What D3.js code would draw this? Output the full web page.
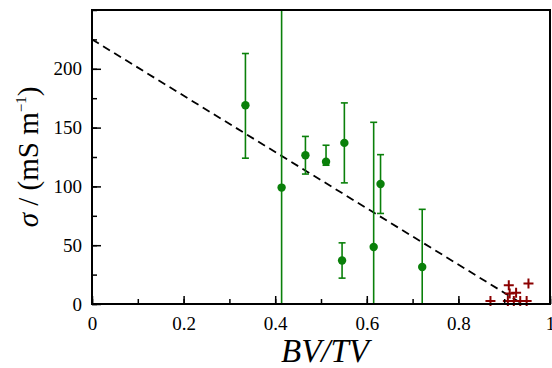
<!DOCTYPE html>
<html>
<head>
<meta charset="utf-8">
<script src="https://cdn.jsdelivr.net/npm/d3@7"></script>
<style>
  body { margin: 0; background: #fff; }
</style>
</head>
<body>
<div id="chart"></div>
<script>
// Measured points (green) with asymmetric error bars.
var bvtv     = [0.335, 0.414, 0.466, 0.511, 0.551, 0.546, 0.615, 0.630, 0.721];
var sigma    = [169,   99,    126.5, 121,   137,   37,    48.5,  102,   31.5];
var errUp    = [44,    300,   16,    14,    34,    15,    106,   25,    49];
var errDown  = [45,    300,   16,    3,     34,    15,    106,   25,    49];

// Reference points (red crosses).
var refBvtv  = [0.870, 0.910, 0.912, 0.926, 0.953, 0.908, 0.921, 0.935, 0.949];
var refSigma = [2.5,   16,    9,     9.5,   17.5,  2.5,   2.5,   2.5,   2.5];

// Fitted trend line end points.
var fitX = [0, 0.94];
var fitY = [225, 0];

var xTicks = [0, 0.2, 0.4, 0.6, 0.8, 1];
var yTicks = [0, 50, 100, 150, 200];

var FONT = 'Liberation Serif';
var W = 552, H = 368;
var margin = {top: 10, right: 2, bottom: 64, left: 92},
    width = W - margin.left - margin.right,
    height = H - margin.top - margin.bottom;

var svg = d3.select('#chart').append('svg')
    .attr('width', W)
    .attr('height', H)
    .attr('font-family', FONT);

var g = svg.append('g')
    .attr('transform', 'translate(' + margin.left + ',' + margin.top + ')');

var x = d3.scaleLinear().domain([0, 1]).range([0, width]);
var y = d3.scaleLinear().domain([0, 250]).range([height, 0]);

svg.append('defs').append('clipPath').attr('id', 'clip')
    .append('rect').attr('width', width).attr('height', height);

var plot = g.append('g').attr('clip-path', 'url(#clip)');

// Dashed fit line.
plot.append('line')
    .attr('x1', x(fitX[0])).attr('y1', y(fitY[0]))
    .attr('x2', x(fitX[1])).attr('y2', y(fitY[1]))
    .attr('stroke', '#000')
    .attr('stroke-width', 1.8)
    .attr('stroke-dasharray', '8,5');

// Error bars.
var green = '#0a800a';
var bars = plot.selectAll('.err').data(bvtv).enter().append('g').attr('class', 'err');
bars.append('line')
    .attr('x1', function (d) {return x(d);})
    .attr('x2', function (d) {return x(d);})
    .attr('y1', function (d, i) {return y(sigma[i] - errDown[i]);})
    .attr('y2', function (d, i) {return y(sigma[i] + errUp[i]);})
    .attr('stroke', green).attr('stroke-width', 1.6);
bars.append('line')
    .attr('x1', function (d) {return x(d) - 3.5;})
    .attr('x2', function (d) {return x(d) + 3.5;})
    .attr('y1', function (d, i) {return y(sigma[i] + errUp[i]);})
    .attr('y2', function (d, i) {return y(sigma[i] + errUp[i]);})
    .attr('stroke', green).attr('stroke-width', 1.6);
bars.append('line')
    .attr('x1', function (d) {return x(d) - 3.5;})
    .attr('x2', function (d) {return x(d) + 3.5;})
    .attr('y1', function (d, i) {return y(sigma[i] - errDown[i]);})
    .attr('y2', function (d, i) {return y(sigma[i] - errDown[i]);})
    .attr('stroke', green).attr('stroke-width', 1.6);
bars.append('circle')
    .attr('cx', function (d) {return x(d);})
    .attr('cy', function (d, i) {return y(sigma[i]);})
    .attr('r', 4.2)
    .attr('fill', green);

// Red crosses.
var red = '#8b0000';
var crosses = g.selectAll('.cross').data(refBvtv).enter().append('g')
    .attr('class', 'cross')
    .attr('transform', function (d, i) {return 'translate(' + x(d) + ',' + y(refSigma[i]) + ')';});
crosses.append('path')
    .attr('d', 'M-5,0H5M0,-5V5')
    .attr('stroke', red).attr('stroke-width', 2);

// Axes: inward ticks on all four sides.
function styleAxis(sel) {
    sel.attr('font-family', FONT);
    sel.select('.domain').remove();
    sel.selectAll('.tick line').attr('stroke', '#000').attr('stroke-width', 1.5);
    sel.selectAll('.tick text').attr('font-size', 19).attr('fill', '#000')
        .attr('font-family', FONT);
}

var xMinor = d3.range(0, 1.0001, 0.1);
var yMinor = d3.range(0, 250.001, 25);

g.append('g').attr('transform', 'translate(0,' + height + ')')
    .call(d3.axisBottom(x).tickValues(xMinor).tickSize(-5).tickFormat(''))
    .call(styleAxis);
g.append('g').attr('transform', 'translate(0,' + height + ')')
    .call(d3.axisBottom(x).tickValues(xTicks).tickSize(-8).tickPadding(13).tickFormat(d3.format('')))
    .call(styleAxis);
g.append('g')
    .call(d3.axisLeft(y).tickValues(yMinor).tickSize(-5).tickFormat(''))
    .call(styleAxis);
g.append('g')
    .call(d3.axisLeft(y).tickValues(yTicks).tickSize(-9).tickPadding(10))
    .call(styleAxis);

// Frame.
g.append('rect')
    .attr('width', width).attr('height', height)
    .attr('fill', 'none').attr('stroke', '#000').attr('stroke-width', 2);

// Axis titles.
svg.append('text')
    .attr('x', margin.left + width / 2 + 4)
    .attr('y', 362)
    .attr('text-anchor', 'middle')
    .attr('font-size', 33)
    .attr('font-style', 'italic')
    .attr('font-family', FONT)
    .text('BV/TV');

var yl = svg.append('text')
    .attr('transform', 'translate(38,' + (margin.top + height / 2) + ') rotate(-90)')
    .attr('text-anchor', 'middle')
    .attr('font-size', 29)
    .attr('font-family', FONT);
yl.append('tspan').attr('font-style', 'italic').text('σ');
yl.append('tspan').text(' / (mS m');
yl.append('tspan').attr('font-size', 15).attr('dy', -12).text('−1');
yl.append('tspan').attr('dy', 12).text(')');
</script>
</body>
</html>
